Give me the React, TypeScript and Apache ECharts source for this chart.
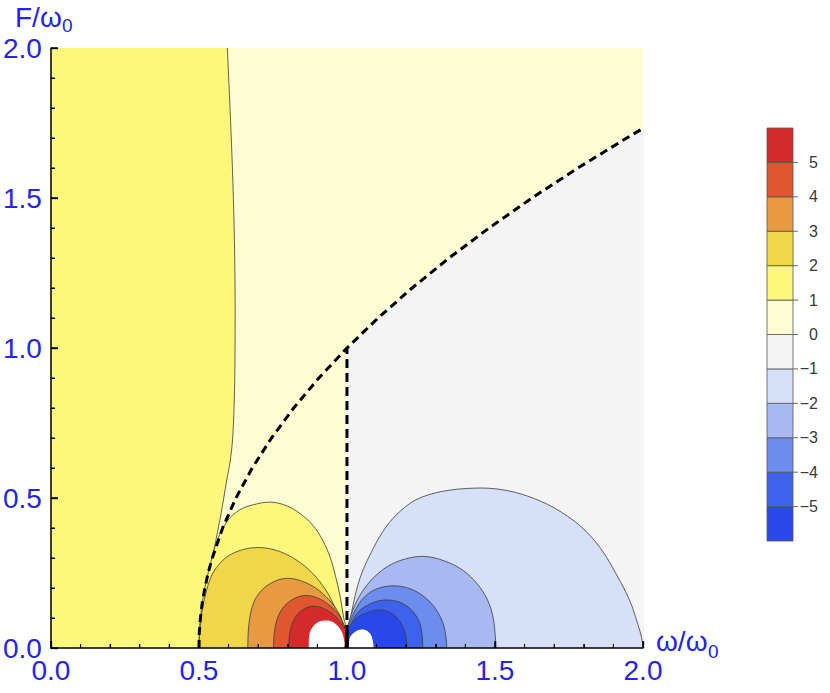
import React, { useEffect, useRef } from "react";
import * as echarts from "echarts";

// ---------- data ----------
const majorTicks = [0, 0.5, 1.0, 1.5, 2.0];
const minorTicks = [0.1, 0.2, 0.3, 0.4, 0.6, 0.7, 0.8, 0.9, 1.1, 1.2, 1.3, 1.4, 1.6, 1.7, 1.8, 1.9];
const legendLevels = [-6, -5, -4, -3, -2, -1, 0, 1, 2, 3, 4, 5, 6];
const legendTickLevels = [-5, -4, -3, -2, -1, 0, 1, 2, 3, 4, 5];
// colour of band [level, level+1] for levels -6..5
const bandColors = [
  "#2848ea", "#3d62ec", "#6c8cee", "#a8b9f2", "#d6e0f8", "#f3f4f3",
  "#fdfcd3", "#fdf87b", "#f2d64a", "#e89a40", "#e0562e", "#d42a2c",
];

// dashed branch curve (omega, F)
const branchCurve = [
  [0.5, 0], [0.501, 0.05], [0.505, 0.1], [0.511, 0.15], [0.52, 0.2], [0.531, 0.25],
  [0.545, 0.3], [0.58, 0.4], [0.625, 0.5], [0.68, 0.6], [0.745, 0.7], [0.82, 0.8],
  [0.905, 0.9], [1.0, 1.0], [1.105, 1.1], [1.22, 1.2], [1.345, 1.3], [1.48, 1.4],
  [1.625, 1.5], [1.78, 1.6], [1.945, 1.7], [2.0, 1.732],
];
const branchVertical = [[1, 0], [1, 1]];
const singularSegment = [[1, 0], [1, 0.058]];

// contour level +1, long line from the top down to (0.5, 0)
const contourP1Left = [
  [0.596, 2.0], [0.605, 1.8], [0.613, 1.6], [0.619, 1.4], [0.622, 1.2], [0.622, 1.0],
  [0.62, 0.85], [0.614, 0.7], [0.605, 0.62], [0.594, 0.56], [0.574, 0.444],
  [0.552, 0.333], [0.53, 0.222], [0.512, 0.12], [0.503, 0.05], [0.5, 0],
];
// positive contours (left lobe), from the left foot to the singular point
const contourP1Bump = [
  [0.5, 0], [0.503, 0.08], [0.511, 0.15], [0.52, 0.2], [0.531, 0.25], [0.545, 0.305],
  [0.562, 0.36], [0.597, 0.425], [0.639, 0.461], [0.694, 0.48], [0.744, 0.486],
  [0.794, 0.475], [0.839, 0.45], [0.883, 0.411], [0.917, 0.361], [0.944, 0.3],
  [0.963, 0.233], [0.978, 0.167], [0.989, 0.1], [1.0, 0.056],
];
const contourP2 = [
  [0.5, 0], [0.506, 0.089], [0.517, 0.156], [0.539, 0.233], [0.567, 0.278], [0.606, 0.311],
  [0.661, 0.331], [0.717, 0.334], [0.772, 0.322], [0.828, 0.294], [0.883, 0.25],
  [0.928, 0.194], [0.961, 0.133], [0.983, 0.089], [1.0, 0.056],
];
const contourP3 = [
  [0.665, 0], [0.67, 0.089], [0.687, 0.156], [0.72, 0.2], [0.765, 0.226], [0.806, 0.232],
  [0.85, 0.222], [0.894, 0.2], [0.939, 0.161], [0.972, 0.117], [0.99, 0.075], [1.0, 0.056],
];
const contourP4 = [
  [0.752, 0], [0.759, 0.078], [0.783, 0.133], [0.822, 0.165], [0.861, 0.175], [0.9, 0.167],
  [0.939, 0.144], [0.972, 0.111], [0.99, 0.075], [1.0, 0.056],
];
const contourP5 = [
  [0.804, 0], [0.808, 0.056], [0.828, 0.106], [0.861, 0.133], [0.894, 0.139], [0.928, 0.128],
  [0.961, 0.106], [0.985, 0.075], [1.0, 0.056],
];
const contourP6 = [
  [0.871, 0], [0.873, 0.045], [0.884, 0.07], [0.902, 0.086], [0.925, 0.092], [0.952, 0.087],
  [0.972, 0.07], [0.986, 0.045], [0.993, 0],
];
// negative contours (right lobe), from the singular point to the right foot
const contourM1 = [
  [1.0, 0.056], [1.011, 0.095], [1.022, 0.15], [1.044, 0.233], [1.078, 0.311], [1.122, 0.389],
  [1.167, 0.444], [1.233, 0.494], [1.322, 0.522], [1.433, 0.533], [1.522, 0.528],
  [1.611, 0.506], [1.7, 0.467], [1.789, 0.406], [1.856, 0.333], [1.911, 0.244],
  [1.956, 0.156], [1.983, 0.078], [1.995, 0.035], [2.0, 0],
];
const contourM2 = [
  [1.0, 0.056], [1.011, 0.1], [1.03, 0.15], [1.06, 0.2], [1.1, 0.244], [1.15, 0.279],
  [1.21, 0.3], [1.265, 0.305], [1.33, 0.29], [1.39, 0.26], [1.44, 0.214], [1.475, 0.16],
  [1.494, 0.1], [1.501, 0.04], [1.503, 0],
];
const contourM3 = [
  [1.0, 0.056], [1.011, 0.089], [1.03, 0.13], [1.056, 0.167], [1.1, 0.197], [1.167, 0.207],
  [1.233, 0.189], [1.289, 0.144], [1.322, 0.089], [1.334, 0.04], [1.337, 0],
];
const contourM4 = [
  [1.0, 0.056], [1.012, 0.078], [1.03, 0.11], [1.056, 0.135], [1.111, 0.158], [1.167, 0.156],
  [1.211, 0.133], [1.244, 0.089], [1.254, 0.04], [1.256, 0],
];
const contourM5 = [
  [1.0, 0.056], [1.015, 0.08], [1.04, 0.105], [1.08, 0.122], [1.11, 0.127], [1.144, 0.119],
  [1.178, 0.09], [1.196, 0.05], [1.202, 0],
];
const contourM6 = [
  [1.006, 0], [1.008, 0.03], [1.02, 0.048], [1.04, 0.06], [1.062, 0.06], [1.078, 0.048],
  [1.087, 0.025], [1.09, 0],
];

// ---------- styling / layout ----------
const BLUE = "#2424ee";
const LINE_COLOR = "rgba(60,60,60,0.8)";
const FONT = "Liberation Sans, Arial, sans-serif";
const GRID = { left: 46, top: 48, right: 187, bottom: 45 };
const PLOT_W = 830 - GRID.left - GRID.right;
const PLOT_H = 693 - GRID.top - GRID.bottom;
// tick lengths in pixels, converted to the axes' data units
const MAJOR_LEN = 7;
const MINOR_LEN = 4;
const pxToX = (px: number) => (px * 2) / PLOT_W;
const pxToY = (px: number) => (px * 2) / PLOT_H;

// close a curve that starts/ends on (or at x=1 above) the axis by going below the axis
const closeBelow = (curve: number[][]) => [
  [curve[0][0], -0.2],
  ...curve,
  [curve[curve.length - 1][0], -0.2],
];

type Region = { pts: number[][]; fill: string; stroke: boolean; smooth: number };

const regions: Region[] = [
  {
    pts: [[1, -0.2], ...branchCurve.filter((p) => p[0] >= 1), [2.2, 1.85], [2.2, -0.2]],
    fill: bandColors[5], stroke: false, smooth: 0,
  },
  {
    pts: [[-0.2, -0.2], [-0.2, 2.2], [0.588, 2.2], ...contourP1Left, [0.5, -0.2]],
    fill: bandColors[7], stroke: true, smooth: 0.3,
  },
  { pts: closeBelow(contourP1Bump), fill: bandColors[7], stroke: true, smooth: 0.35 },
  { pts: closeBelow(contourP2), fill: bandColors[8], stroke: true, smooth: 0.35 },
  { pts: closeBelow(contourP3), fill: bandColors[9], stroke: true, smooth: 0.35 },
  { pts: closeBelow(contourP4), fill: bandColors[10], stroke: true, smooth: 0.35 },
  { pts: closeBelow(contourP5), fill: bandColors[11], stroke: true, smooth: 0.35 },
  { pts: closeBelow(contourP6), fill: "#ffffff", stroke: false, smooth: 0.35 },
  { pts: closeBelow(contourM1), fill: bandColors[4], stroke: true, smooth: 0.35 },
  { pts: closeBelow(contourM2), fill: bandColors[3], stroke: true, smooth: 0.35 },
  { pts: closeBelow(contourM3), fill: bandColors[2], stroke: true, smooth: 0.35 },
  { pts: closeBelow(contourM4), fill: bandColors[1], stroke: true, smooth: 0.35 },
  { pts: closeBelow(contourM5), fill: bandColors[0], stroke: true, smooth: 0.35 },
  { pts: closeBelow(contourM6), fill: "#ffffff", stroke: false, smooth: 0.35 },
];

const legendBands = legendLevels.slice(0, -1).map((lo, i) => [0, lo, i]);

// tick segments as broken polylines ('-' breaks the line between ticks)
const tickPath = (values: number[], lenPx: number) => {
  const out: any[] = [];
  values.forEach((v) => {
    out.push([v, 0], [v, pxToY(lenPx)], [v, "-"]);
  });
  values.forEach((v) => {
    out.push([0, v], [pxToX(lenPx), v], ["-", v]);
  });
  return out;
};

export default function App() {
  const ref = useRef<HTMLDivElement>(null);

  useEffect(() => {
    if (!ref.current) return;
    const chart = echarts.init(ref.current, undefined, { renderer: "svg" });

    const mainAxisCommon = {
      type: "value" as const,
      min: 0,
      max: 2,
      interval: 0.5,
      z: 10,
      axisLine: { show: true, onZero: false, lineStyle: { color: "#000", width: 1.5 } },
      axisTick: { show: true, inside: true, length: MAJOR_LEN, lineStyle: { color: "#000", width: 1.3 } },
      minorTick: { show: true, splitNumber: 5, length: MINOR_LEN, lineStyle: { color: "#000", width: 1 } },
      splitLine: { show: false },
      minorSplitLine: { show: false },
      axisLabel: {
        color: BLUE,
        fontSize: 28,
        fontFamily: FONT,
        formatter: (v: number) =>
          majorTicks.includes(v) ? v.toFixed(1) : "",
      },
    };

    const tickSeries = (values: number[], lenPx: number, width: number) => ({
      type: "line",
      xAxisIndex: 0,
      yAxisIndex: 0,
      data: tickPath(values, lenPx),
      showSymbol: false,
      symbol: "none",
      silent: true,
      connectNulls: false,
      clip: false,
      z: 15,
      lineStyle: { color: "#000", width },
    });

    chart.setOption({
      animation: false,
      grid: [
        { ...GRID, show: true, backgroundColor: bandColors[6], borderWidth: 0 },
        { left: 767, top: 128, width: 26, height: 413, show: false },
      ],
      xAxis: [
        { ...mainAxisCommon, gridIndex: 0, axisLabel: { ...mainAxisCommon.axisLabel, margin: 8 } },
        { type: "value", gridIndex: 1, min: 0, max: 1, show: false },
      ],
      yAxis: [
        { ...mainAxisCommon, gridIndex: 0, axisLabel: { ...mainAxisCommon.axisLabel, margin: 9 } },
        {
          type: "value",
          gridIndex: 1,
          min: -6,
          max: 6,
          interval: 1,
          position: "right",
          z: 10,
          axisLine: { show: false },
          axisTick: { show: false },
          splitLine: { show: false },
          axisLabel: {
            color: "#3a3a3a",
            fontSize: 16,
            fontFamily: FONT,
            align: "right",
            margin: 25,
            formatter: (v: number) =>
              v === -6 || v === 6 ? "" : v < 0 ? "\u2212" + Math.abs(v) : String(v),
          },
        },
      ],
      series: [
        {
          type: "custom",
          xAxisIndex: 0,
          yAxisIndex: 0,
          clip: true,
          silent: true,
          z: 1,
          data: regions.map((_, i) => [1, 1, i]),
          encode: { x: 0, y: 1 },
          renderItem: (params: any, api: any) => {
            const r = regions[params.dataIndex];
            const pts = r.pts.map((p) => api.coord(p));
            return {
              type: "polygon",
              shape: { points: pts, smooth: r.smooth },
              style: {
                fill: r.fill,
                stroke: r.stroke ? LINE_COLOR : "none",
                lineWidth: 1,
              },
            };
          },
        },
        {
          type: "line",
          xAxisIndex: 0,
          yAxisIndex: 0,
          data: branchCurve,
          showSymbol: false,
          symbol: "none",
          silent: true,
          lineStyle: { color: "#000", width: 3, type: [8, 5] },
        },
        {
          type: "line",
          xAxisIndex: 0,
          yAxisIndex: 0,
          data: branchVertical,
          showSymbol: false,
          symbol: "none",
          silent: true,
          lineStyle: { color: "#000", width: 3, type: [9, 5] },
        },
        {
          type: "line",
          xAxisIndex: 0,
          yAxisIndex: 0,
          data: singularSegment,
          showSymbol: false,
          symbol: "none",
          silent: true,
          lineStyle: { color: "#000", width: 3.5 },
        },
        tickSeries(majorTicks, MAJOR_LEN, 1.4),
        tickSeries(minorTicks, MINOR_LEN, 1.1),
        {
          type: "custom",
          xAxisIndex: 1,
          yAxisIndex: 1,
          silent: true,
          data: legendBands,
          encode: { x: 0, y: 1 },
          renderItem: (params: any, api: any) => {
            const lo = api.value(1);
            const idx = api.value(2);
            const p1 = api.coord([0, lo + 1]);
            const p2 = api.coord([1, lo]);
            return {
              type: "rect",
              shape: { x: p1[0], y: p1[1], width: p2[0] - p1[0], height: p2[1] - p1[1] },
              style: { fill: bandColors[idx], stroke: "#555", lineWidth: 0.8 },
            };
          },
        },
        {
          // legend ticks
          type: "custom",
          xAxisIndex: 1,
          yAxisIndex: 1,
          silent: true,
          clip: false,
          z: 20,
          data: legendTickLevels.map((v) => [1, v]),
          encode: { x: 0, y: 1 },
          renderItem: (params: any, api: any) => {
            const p = api.coord([1, api.value(1)]);
            return {
              type: "rect",
              shape: { x: p[0], y: p[1] - 0.5, width: 5, height: 1 },
              style: { fill: "#666" },
            };
          },
        },
      ],
      graphic: [
        { type: "text", x: 15, y: 17, style: { text: "F/\u03c9", fontSize: 28, fontFamily: FONT, fill: BLUE, verticalAlign: "middle" } },
        { type: "text", x: 62, y: 25, style: { text: "0", fontSize: 19, fontFamily: FONT, fill: BLUE, verticalAlign: "middle" } },
        { type: "text", x: 656, y: 641, style: { text: "\u03c9/\u03c9", fontSize: 28, fontFamily: FONT, fill: BLUE, verticalAlign: "middle" } },
        { type: "text", x: 708, y: 651, style: { text: "0", fontSize: 19, fontFamily: FONT, fill: BLUE, verticalAlign: "middle" } },
      ],
    });

    return () => chart.dispose();
  }, []);

  return (
    <div
      ref={ref}
      style={{ position: "fixed", left: 0, top: 0, width: 830, height: 693, background: "#fff" }}
    />
  );
}
